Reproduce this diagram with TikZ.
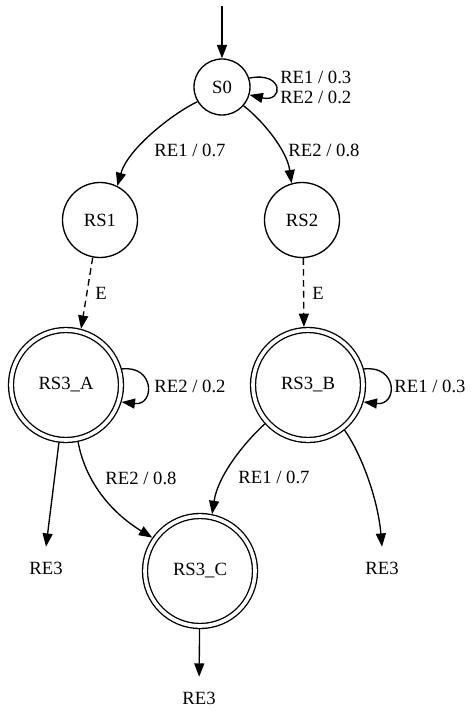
\documentclass[tikz,border=0pt]{standalone}
\usepackage{fontspec}
\setmainfont{Liberation Serif}
\newfontfamily\gvserif{Liberation Serif}
\usetikzlibrary{arrows.meta}
\begin{document}
\begin{tikzpicture}[x=0.75pt,y=-0.75pt,
  every node/.style={font=\gvserif\fontsize{14pt}{15pt}\selectfont},
  stbase/.style={circle,draw,line width=1pt,inner sep=0pt},
  stsmall/.style={stbase,minimum size=42pt},
  stmid/.style={stbase,minimum size=56.25pt},
  stfinal/.style={stbase,double,double distance=2.75pt,minimum size=82.5pt,outer sep=2.4pt},
  term/.style={inner sep=0pt,minimum height=31.5pt},
  lbl/.style={inner sep=0pt},
  trans/.style={line width=1pt,-{Triangle[length=10pt,width=7.5pt]}},
  etrans/.style={trans,dash pattern=on 5pt off 3.2pt}]
  \useasboundingbox (0,0) rectangle (472,716);

  % states
  \coordinate (start) at (222,6);
  \node[stsmall] (s0) at (222,87) {S0};
  \node[stmid] (rs1) at (100,220) {RS1};
  \node[stmid] (rs2) at (302,220) {RS2};
  \node[stfinal] (rs3a) at (66,385) {RS3\_A};
  \node[stfinal] (rs3b) at (308,385) {RS3\_B};
  \node[stfinal] (rs3c) at (200,571) {RS3\_C};
  \node[term] (re3a) at (46,568) {RE3};
  \node[term] (re3b) at (382,568) {RE3};
  \node[term] (re3c) at (199,698) {RE3};

  % transitions
  \draw[trans] (start) -- (s0);
  \draw[trans] (s0.18) .. controls (284,71) and (284,103) .. (s0.-16);
  \draw[trans] (s0.211) .. controls (175,112) and (128,148) .. (rs1.63);
  \draw[trans] (s0.-41) .. controls (262,120) and (287,150) .. (rs2.106);
  \draw[etrans] (rs1.259) -- (rs3a.75);
  \draw[etrans] (rs2.-88) -- (rs3b.94);
  \draw[trans] (rs3a.16) .. controls (155,365) and (155,406) .. (rs3a.-17);
  \draw[trans] (rs3b.16) .. controls (398,365) and (398,406) .. (rs3b.-17);
  \draw[trans] (rs3a.263) -- (re3a.north);
  \draw[trans] (rs3a.-78) .. controls (86,485) and (115,515) .. (rs3c.145);
  \draw[trans] (rs3b.222) .. controls (245,442) and (218,475) .. (rs3c.78);
  \draw[trans] (rs3b.-51) .. controls (362,455) and (378,500) .. (re3b.north);
  \draw[trans] (rs3c) -- (re3c);

  % transition labels
  \node[lbl,align=left,anchor=west] (l0) at (280,87) {RE1 / 0.3\\RE2 / 0.2};
  \node[lbl] (l1) at (190,150) {RE1 / 0.7};
  \node[lbl] (l2) at (324,150) {RE2 / 0.8};
  \node[lbl] (l3) at (101,293) {E};
  \node[lbl] (l4) at (318,293) {E};
  \node[lbl] (l5) at (190,386) {RE2 / 0.2};
  \node[lbl] (l6) at (430,386) {RE1 / 0.3};
  \node[lbl] (l7) at (141,478) {RE2 / 0.8};
  \node[lbl] (l8) at (274,477) {RE1 / 0.7};
\end{tikzpicture}
\end{document}
